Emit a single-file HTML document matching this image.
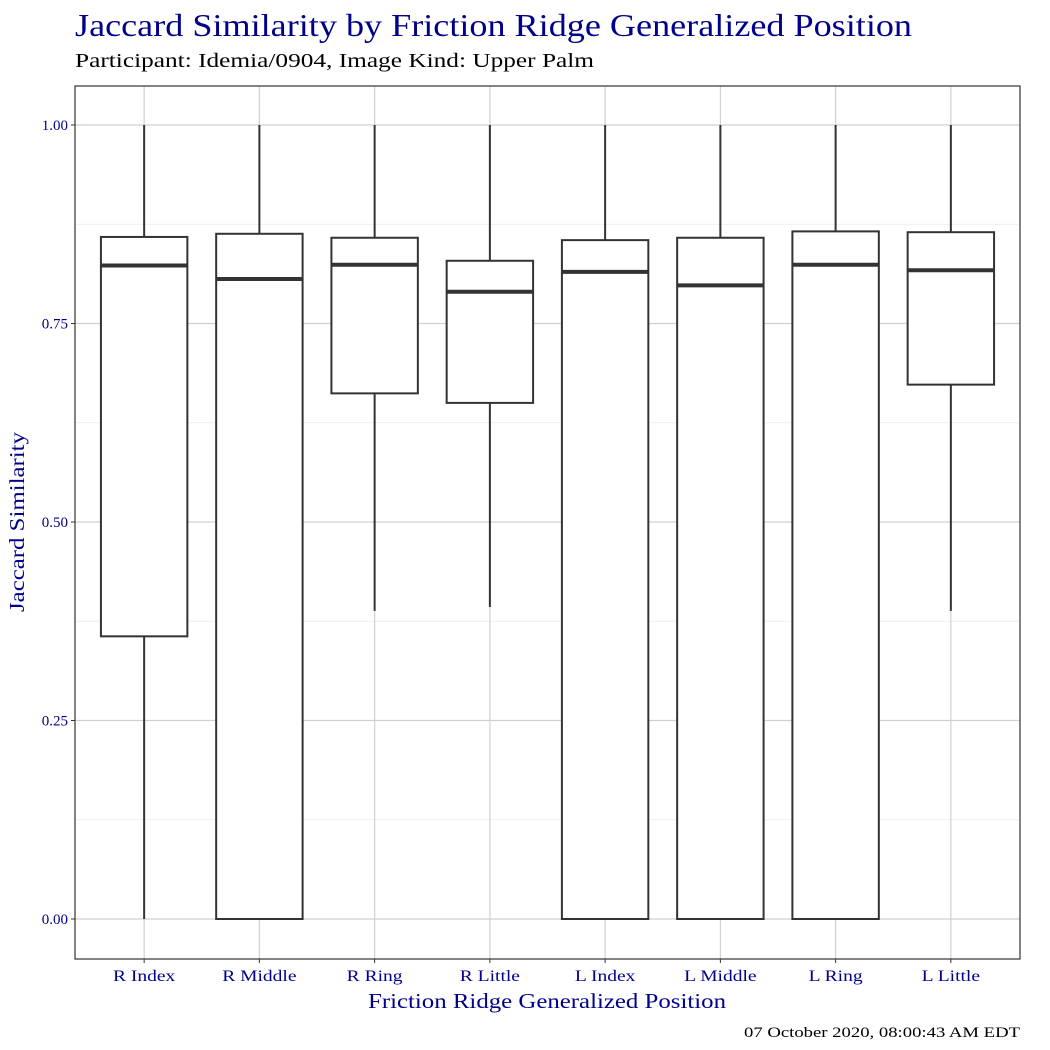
<!DOCTYPE html>
<html><head><meta charset="utf-8"><style>
html,body{margin:0;padding:0;background:#fff;}
svg{display:block;font-family:"Liberation Serif",serif;}
</style></head><body>
<svg id="chart" width="1050" height="1050">
<text x="75" y="36" font-size="32" fill="#00008B" textLength="837" lengthAdjust="spacingAndGlyphs">Jaccard Similarity by Friction Ridge Generalized Position</text>
<text x="75" y="67" font-size="20" fill="#000" textLength="519" lengthAdjust="spacingAndGlyphs">Participant: Idemia/0904, Image Kind: Upper Palm</text>
<g id="grid"></g>
<g id="boxes"></g>
<rect x="75" y="86" width="945" height="873" fill="none" stroke="#333" stroke-width="1.2"/>
<g id="axes"></g>
<text x="368" y="1008" font-size="21" fill="#00008B" textLength="358" lengthAdjust="spacingAndGlyphs">Friction Ridge Generalized Position</text>
<text transform="translate(24,612) rotate(-90)" font-size="21" fill="#00008B" textLength="180" lengthAdjust="spacingAndGlyphs">Jaccard Similarity</text>
<text x="744" y="1037" font-size="15" fill="#000" textLength="276" lengthAdjust="spacingAndGlyphs">07 October 2020, 08:00:43 AM EDT</text>
</svg>
<script>
const categories=["R Index","R Middle","R Ring","R Little","L Index","L Middle","L Ring","L Little"];
const mins=[0,0,0.388,0.393,0,0,0,0.388];
const q1s=[0.356,0,0.662,0.650,0,0,0,0.673];
const medians=[0.823,0.806,0.824,0.790,0.815,0.798,0.824,0.817];
const q3s=[0.859,0.863,0.858,0.829,0.855,0.858,0.866,0.865];
const maxs=[1,1,1,1,1,1,1,1];
const yTicks=[0,0.25,0.5,0.75,1];
const yTickLabels=["0.00","0.25","0.50","0.75","1.00"];
const yMinor=[0.125,0.375,0.625,0.875];

const NS="http://www.w3.org/2000/svg";
const L=75,R=1020;
const step=(R-L)/(categories.length+0.2);
function x(i){return L+step*(0.6+i);}
function y(v){return 919-794*v;}
function mk(tag,attrs,parent){const e=document.createElementNS(NS,tag);for(const k in attrs)e.setAttribute(k,attrs[k]);parent.appendChild(e);return e;}
const grid=document.getElementById('grid'),boxes=document.getElementById('boxes'),axes=document.getElementById('axes');
yMinor.forEach(v=>{const l=mk('line',{x1:L,x2:R,y1:y(v),y2:y(v),stroke:'#ebebeb','stroke-width':0.8},grid);

});
yTicks.forEach((v,i)=>{const l=mk('line',{x1:L,x2:R,y1:y(v),y2:y(v),stroke:'#d0d0d0','stroke-width':1.2},grid);


const t=mk('line',{x1:L-4,x2:L,y1:y(v),y2:y(v),stroke:'#333','stroke-width':1},axes);


const tx=mk('text',{x:L-7,y:y(v)+5,'font-size':15,fill:'#00008B','text-anchor':'end'},axes);tx.textContent=yTickLabels[i];

});
categories.forEach((c,i)=>{const cx=x(i);
const g=mk('line',{x1:cx,x2:cx,y1:86,y2:959,stroke:'#d0d0d0','stroke-width':1.2},grid);


const hw=step*0.375;
const grp=mk('g',{},boxes);


mk('line',{x1:cx,x2:cx,y1:y(maxs[i]),y2:y(q3s[i]),stroke:'#333','stroke-width':2},grp);
mk('line',{x1:cx,x2:cx,y1:y(q1s[i]),y2:y(mins[i]),stroke:'#333','stroke-width':2},grp);
mk('rect',{x:cx-hw,y:y(q3s[i]),width:2*hw,height:y(q1s[i])-y(q3s[i]),fill:'#fff',stroke:'#333','stroke-width':2},grp);
mk('line',{x1:cx-hw,x2:cx+hw,y1:y(medians[i]),y2:y(medians[i]),stroke:'#333','stroke-width':4},grp);
const t=mk('line',{x1:cx,x2:cx,y1:959,y2:963,stroke:'#333','stroke-width':1},axes);


const tx=mk('text',{x:cx,y:981,'font-size':16,fill:'#00008B','text-anchor':'middle'},axes);tx.textContent=c;


const w=tx.getComputedTextLength();
tx.setAttribute('textLength',w*1.22);
tx.setAttribute('lengthAdjust','spacingAndGlyphs');});
</script>
</body></html>
